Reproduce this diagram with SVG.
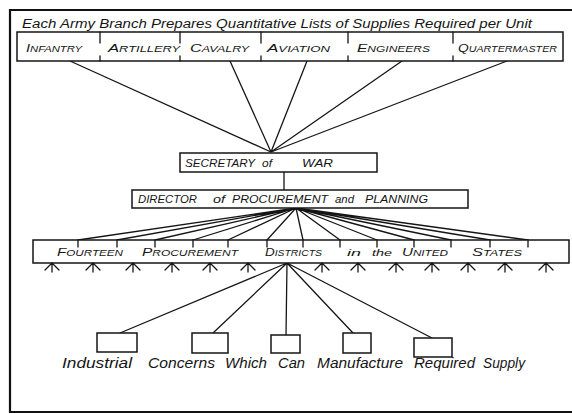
<svg xmlns="http://www.w3.org/2000/svg" width="572" height="414" viewBox="0 0 572 414">
<defs>
<style>
.ln{stroke:#151515;stroke-width:1.3;fill:none;stroke-linecap:round}
.bx{stroke:#151515;stroke-width:1.5;fill:#fff}
.t{font-family:"Liberation Sans","DejaVu Sans",sans-serif;font-style:italic;fill:#151515}
.cap{font-size:8.5px}
.big{font-size:11px}
</style>
<path id="foot" class="ln" d="M0,0 V9 M0,0 L-7,7 M0,0 L7,7"/>
</defs>
<rect width="572" height="414" fill="#fff"/>
<g id="frame">
<path d="M572,10 H10 V412 H572" fill="none" stroke="#111" stroke-width="2.2"/>
</g>
<text id="title" class="t" x="22" y="28" font-size="12.5" textLength="510" lengthAdjust="spacingAndGlyphs">Each Army Branch Prepares Quantitative Lists of Supplies Required per Unit</text>

<g id="connectors">
<path class="ln" d="M70,61 L271,152 M230,61 L271,152 M307,61 L271,152 M402,61 L271,152 M507,61 L271,152"/>
<path class="ln" d="M284,172 V190"/>
<path class="ln" d="M296,208 L78,240 M296,208 L117,240 M296,208 L155,240 M296,208 L193,240 M296,208 L228,240 M296,208 L267,240 M296,208 L303,240 M296,208 L340,240 M296,208 L377,240 M296,208 L414,240 M296,208 L451,240 M296,208 L490,240 M296,208 L528,240"/>
<path class="ln" d="M287,263 L120,333 M287,263 L213,333 M287,263 L286,335 M287,263 L353,333 M287,263 L432,338"/>
</g>

<g id="branches">
<rect class="bx" x="17" y="32" width="546" height="29"/>
<path class="ln" d="M100,32 V43 M100,56 V61 M180,32 V43 M180,56 V61 M261,32 V43 M261,56 V61 M348,32 V43 M348,56 V61 M453,32 V43 M453,56 V61"/>
<g id="infantry"><text class="t cap" x="26" y="52" textLength="56" lengthAdjust="spacingAndGlyphs"><tspan class="big">I</tspan>NFANTRY</text></g>
<g id="artillery"><text class="t cap" x="108" y="52" textLength="72" lengthAdjust="spacingAndGlyphs"><tspan class="big">A</tspan>RTILLERY</text></g>
<g id="cavalry"><text class="t cap" x="190" y="52" textLength="59" lengthAdjust="spacingAndGlyphs"><tspan class="big">C</tspan>AVALRY</text></g>
<g id="aviation"><text class="t cap" x="267" y="52" textLength="63" lengthAdjust="spacingAndGlyphs"><tspan class="big">A</tspan>VIATION</text></g>
<g id="engineers"><text class="t cap" x="357" y="52" textLength="73" lengthAdjust="spacingAndGlyphs"><tspan class="big">E</tspan>NGINEERS</text></g>
<g id="quartermaster"><text class="t cap" x="458" y="52" textLength="99" lengthAdjust="spacingAndGlyphs"><tspan class="big">Q</tspan>UARTERMASTER</text></g>
</g>

<g id="secretary">
<rect class="bx" x="180" y="153" width="197" height="19"/>
<text class="t" font-size="10.5" y="167"><tspan x="185" textLength="70" lengthAdjust="spacingAndGlyphs">SECRETARY</tspan><tspan x="262" textLength="10" lengthAdjust="spacingAndGlyphs">of</tspan><tspan x="302" textLength="31" lengthAdjust="spacingAndGlyphs">WAR</tspan></text>
</g>

<g id="director">
<rect class="bx" x="132" y="190" width="336" height="18"/>
<text class="t" font-size="10" y="203"><tspan x="138" textLength="59" lengthAdjust="spacingAndGlyphs">DIRECTOR</tspan><tspan x="213" textLength="12" lengthAdjust="spacingAndGlyphs">of</tspan><tspan x="232" textLength="96" lengthAdjust="spacingAndGlyphs">PROCUREMENT</tspan><tspan x="335" textLength="19" lengthAdjust="spacingAndGlyphs">and</tspan><tspan x="365" textLength="63" lengthAdjust="spacingAndGlyphs">PLANNING</tspan></text>
</g>

<g id="districts">
<rect class="bx" x="33" y="240" width="536" height="23"/>
<path class="ln" d="M78,240 V247 M117,240 V247 M155,240 V247 M193,240 V247 M228,240 V247 M267,240 V247 M303,240 V247 M340,240 V247 M377,240 V247 M414,240 V247 M451,240 V247 M490,240 V247 M528,240 V247"/>
<text class="t cap" y="256"><tspan x="57" textLength="66" lengthAdjust="spacingAndGlyphs"><tspan class="big">F</tspan>OURTEEN</tspan><tspan x="142" textLength="96" lengthAdjust="spacingAndGlyphs"><tspan class="big">P</tspan>ROCUREMENT</tspan><tspan x="265" textLength="57" lengthAdjust="spacingAndGlyphs"><tspan class="big">D</tspan>ISTRICTS</tspan><tspan x="347" font-size="9" textLength="14" lengthAdjust="spacingAndGlyphs">in</tspan><tspan x="372" font-size="9" textLength="20" lengthAdjust="spacingAndGlyphs">the</tspan><tspan x="402" textLength="46" lengthAdjust="spacingAndGlyphs"><tspan class="big">U</tspan>NITED</tspan><tspan x="472" textLength="50" lengthAdjust="spacingAndGlyphs"><tspan class="big">S</tspan>TATES</tspan></text>
<use href="#foot" x="52" y="263"/><use href="#foot" x="93" y="263"/><use href="#foot" x="133" y="263"/><use href="#foot" x="172" y="263"/><use href="#foot" x="210" y="263"/><use href="#foot" x="248" y="263"/><use href="#foot" x="322" y="263"/><use href="#foot" x="358" y="263"/><use href="#foot" x="396" y="263"/><use href="#foot" x="432" y="263"/><use href="#foot" x="468" y="263"/><use href="#foot" x="505" y="263"/><use href="#foot" x="546" y="263"/>
</g>

<g id="concerns">
<rect class="bx" x="97" y="333" width="40" height="19"/>
<rect class="bx" x="192" y="333" width="36" height="20"/>
<rect class="bx" x="271" y="335" width="29" height="18"/>
<rect class="bx" x="343" y="333" width="28" height="20"/>
<rect class="bx" x="414" y="338" width="38" height="19"/>
<text class="t" font-size="14" y="368"><tspan x="62" textLength="70" lengthAdjust="spacingAndGlyphs">Industrial</tspan><tspan x="148" textLength="67" lengthAdjust="spacingAndGlyphs">Concerns</tspan><tspan x="225" textLength="42" lengthAdjust="spacingAndGlyphs">Which</tspan><tspan x="278" textLength="27" lengthAdjust="spacingAndGlyphs">Can</tspan><tspan x="317" textLength="86" lengthAdjust="spacingAndGlyphs">Manufacture</tspan><tspan x="414" textLength="61" lengthAdjust="spacingAndGlyphs">Required</tspan><tspan x="483" textLength="42" lengthAdjust="spacingAndGlyphs">Supply</tspan></text>
</g>
</svg>
